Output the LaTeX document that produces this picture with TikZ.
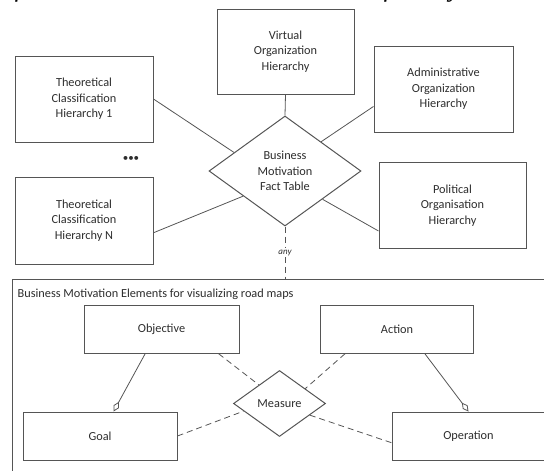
\documentclass[tikz,border=0pt]{standalone}
\usepackage{fontspec}
\setmainfont{Carlito}
\newfontfamily\capfont{Liberation Serif}
\usetikzlibrary{shapes.geometric, arrows.meta}
\definecolor{mygray}{RGB}{85, 85, 85}
\definecolor{mytext}{RGB}{45, 45, 45}

\begin{document}
\begin{tikzpicture}[x = 1pt, y = -1pt,
  box/.style = {draw = mygray, line width = 1pt, align = center, inner sep = 0pt, text = mytext, font = \fontsize{12.3}{15.5}\selectfont},
  rhomb/.style = {box, diamond, shape aspect = 1.4},
  link/.style = {line width = 0.8pt, draw = mygray},
  weak/.style = {link, dash pattern = on 6pt off 4pt},
  part/.style = {link, -{Diamond[open, length = 11pt, width = 6pt]}}]
\useasboundingbox (0,0) rectangle (544,471);
\clip (0,0) rectangle (544,471);
% caption of the page, cut off at the top
\node[anchor = base west, inner sep = 0pt, font = \capfont\itshape\fontsize{27}{30}\selectfont] (cap) at (-4, -3) {y fact table that can be instantiated for any BM elem};
% fact table and its hierarchies
\node[rhomb, minimum width = 152pt, minimum height = 110pt] (fact) at (285, 171) {Business\\Motivation\\Fact Table};
\node[box, minimum width = 137pt, minimum height = 85pt] (virt) at (285.5, 51.5) {Virtual\\Organization\\Hierarchy};
\node[box, minimum width = 138pt, minimum height = 86pt] (theo1) at (84, 99) {Theoretical\\Classification\\Hierarchy 1};
\node[box, minimum width = 138pt, minimum height = 87pt] (theoN) at (84, 220.5) {Theoretical\\Classification\\Hierarchy N};
\node[box, minimum width = 139pt, minimum height = 86pt] (admin) at (443.5, 89) {Administrative\\Organization\\Hierarchy};
\node[box, minimum width = 147pt, minimum height = 86pt] (polit) at (452.5, 205.5) {Political\\Organisation\\Hierarchy};
\node[text = mytext, inner sep = 0pt, font = \fontsize{11}{12}\selectfont] (dots) at (131, 159) {\textbullet\textbullet\textbullet};
\draw[link] (virt.south) -- (fact.north);
\draw[link] (theo1.east) -- (fact.160);
\draw[link] (theoN.-10) -- (fact.211);
\draw[link] (admin.194) -- (fact.39);
\draw[link] (polit.199) -- (fact.-37);
% road map elements
\draw[mygray, line width = 1pt] (12.5, 279) rectangle (560, 490);
\coordinate (bmtop) at (285, 279);
\node[anchor = west, inner sep = 0pt, text = mytext, font = \fontsize{12.3}{15.5}\selectfont] (bmtitle) at (17.5, 294.5) {Business Motivation Elements for visualizing road maps};
\draw[weak] (fact.south) -- node[fill = white, inner sep = 1.5pt, text = mytext, font = \itshape\fontsize{9}{10}\selectfont] {any} (bmtop);
\node[box, minimum width = 155pt, minimum height = 47.5pt] (obj) at (161.5, 329.5) {Objective};
\node[box, minimum width = 153.5pt, minimum height = 47.5pt] (act) at (397, 329.5) {Action};
\node[box, minimum width = 154pt, minimum height = 48pt] (goal) at (100, 436) {Goal};
\node[box, minimum width = 153pt, minimum height = 48pt] (op) at (468.5, 436) {Operation};
\node[rhomb, minimum width = 92pt, minimum height = 66pt] (meas) at (279.5, 403.5) {Measure};
\draw[part] (obj.236) -- (goal.61);
\draw[part] (act.-41) -- (op.north);
\draw[weak] (obj.-23) -- (meas.138);
\draw[weak] (goal.east) -- (meas.192);
\draw[weak] (act.205) -- (meas.30);
\draw[weak] (meas.-21) -- (op.185);
\end{tikzpicture}
\end{document}
